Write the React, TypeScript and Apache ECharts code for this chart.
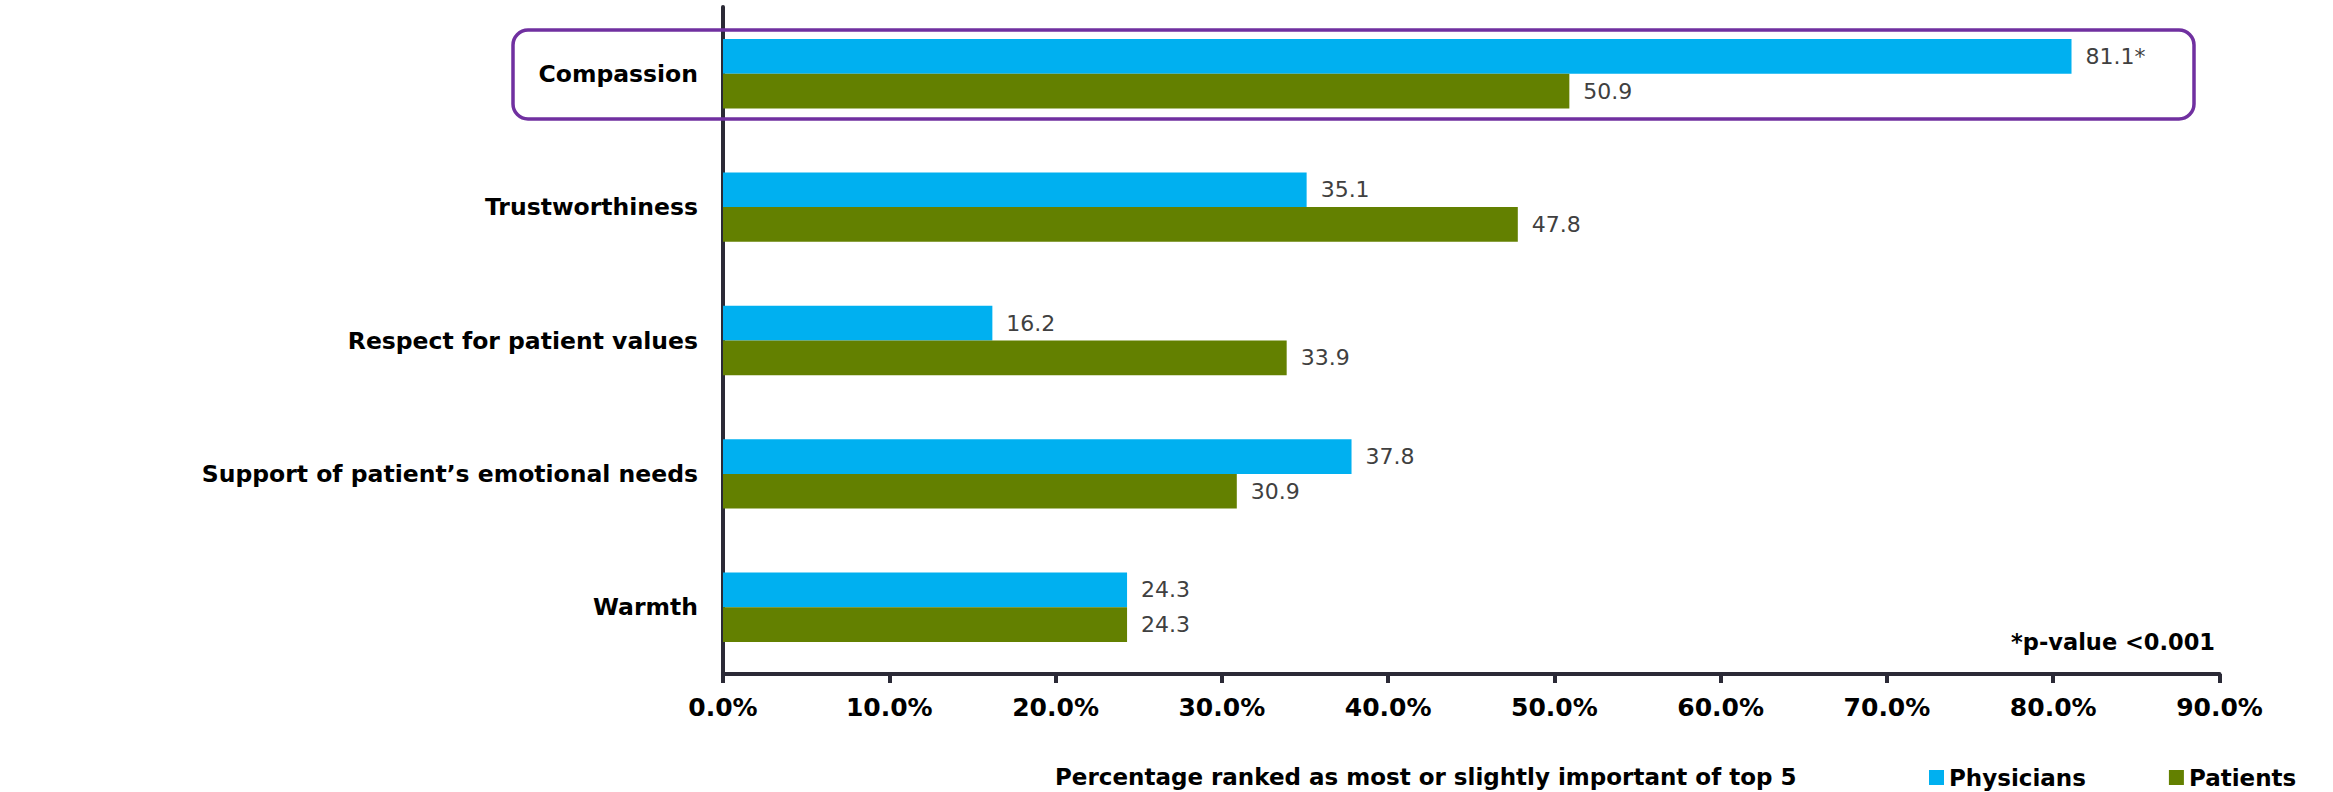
import React, { useEffect, useRef } from "react";
import * as echarts from "echarts";

const categories = [
  "Compassion",
  "Trustworthiness",
  "Respect for patient values",
  "Support of patient\u2019s emotional needs",
  "Warmth",
];
const physicians = [81.1, 35.1, 16.2, 37.8, 24.3];
const patients = [50.9, 47.8, 33.9, 30.9, 24.3];
const physiciansSignificant = [true, false, false, false, false];
const seriesNames = ["Physicians", "Patients"];
const axisTitle = "Percentage ranked as most or slightly important of top 5";
const footnote = "*p-value <0.001";

const FONT = "'DejaVu Sans', Verdana, sans-serif";
const AXIS_COLOR = "#2b2a36";

export default function App() {
  const ref = useRef<HTMLDivElement>(null);

  useEffect(() => {
    if (!ref.current) return;
    const chart = echarts.init(ref.current, null, { renderer: "svg" });
    const valueLabel = (suffixes: boolean[] | null) => ({
      show: true,
      position: "right",
      distance: 14,
      fontSize: 22,
      fontFamily: FONT,
      color: "#404040",
      formatter: (p: any) =>
        Number(p.value).toFixed(1) + (suffixes && suffixes[p.dataIndex] ? "*" : ""),
    });
    chart.setOption({
      animation: false,
      textStyle: { fontFamily: FONT },
      grid: {
        left: 723,
        right: 113.5,
        top: 7,
        bottom: 118,
        containLabel: false,
        outerBoundsMode: "none",
      },
      xAxis: {
        type: "value",
        min: 0,
        max: 90,
        interval: 10,
        splitLine: { show: false },
        axisLine: { show: true, lineStyle: { color: AXIS_COLOR, width: 4 } },
        axisTick: { show: true, length: 9, lineStyle: { color: AXIS_COLOR, width: 4 } },
        axisLabel: {
          formatter: (v: number) => v.toFixed(1) + "%",
          fontSize: 25,
          fontWeight: "bold",
          fontFamily: FONT,
          color: "#000",
          margin: 21,
        },
      },
      yAxis: {
        type: "category",
        inverse: true,
        data: categories,
        axisLine: { show: true, lineStyle: { color: AXIS_COLOR, width: 4 } },
        axisTick: { show: false },
        axisLabel: {
          fontSize: 23.5,
          fontWeight: "bold",
          fontFamily: FONT,
          color: "#000",
          margin: 25,
        },
      },
      legend: {
        data: seriesNames,
        left: 1929,
        top: 766,
        padding: 0,
        itemWidth: 15,
        itemHeight: 15,
        itemGap: 83,
        icon: "rect",
        textStyle: { fontSize: 23, fontWeight: "bold", fontFamily: FONT, color: "#000" },
      },
      series: [
        {
          name: seriesNames[0],
          type: "bar",
          data: physicians,
          itemStyle: { color: "#00B0F0" },
          barGap: "0%",
          barCategoryGap: "48%",
          label: valueLabel(physiciansSignificant),
        },
        {
          name: seriesNames[1],
          type: "bar",
          data: patients,
          itemStyle: { color: "#638000" },
          barGap: "0%",
          barCategoryGap: "48%",
          label: valueLabel(null),
        },
      ],
      graphic: [
        {
          type: "rect",
          z: 1,
          shape: { x: 513, y: 30, width: 1681, height: 89, r: 15 },
          style: { fill: "none", stroke: "#7030A0", lineWidth: 3.5 },
        },
        {
          type: "text",
          x: 2215,
          y: 642,
          style: {
            text: footnote,
            fontSize: 22.5,
            fontWeight: "bold",
            fontFamily: FONT,
            fill: "#000",
            textAlign: "right",
            textVerticalAlign: "middle",
          },
        },
        {
          type: "text",
          x: 1055,
          y: 776.5,
          style: {
            text: axisTitle,
            fontSize: 23,
            fontWeight: "bold",
            fontFamily: FONT,
            fill: "#000",
            textAlign: "left",
            textVerticalAlign: "middle",
          },
        },
      ],
    });
    return () => chart.dispose();
  }, []);

  return (
    <div
      style={{
        position: "fixed",
        left: 0,
        top: 0,
        width: 2333,
        height: 792,
        overflow: "hidden",
        background: "#fff",
      }}
    >
      <div ref={ref} style={{ position: "absolute", left: 0, top: 0, width: 2333, height: 792 }} />
    </div>
  );
}
